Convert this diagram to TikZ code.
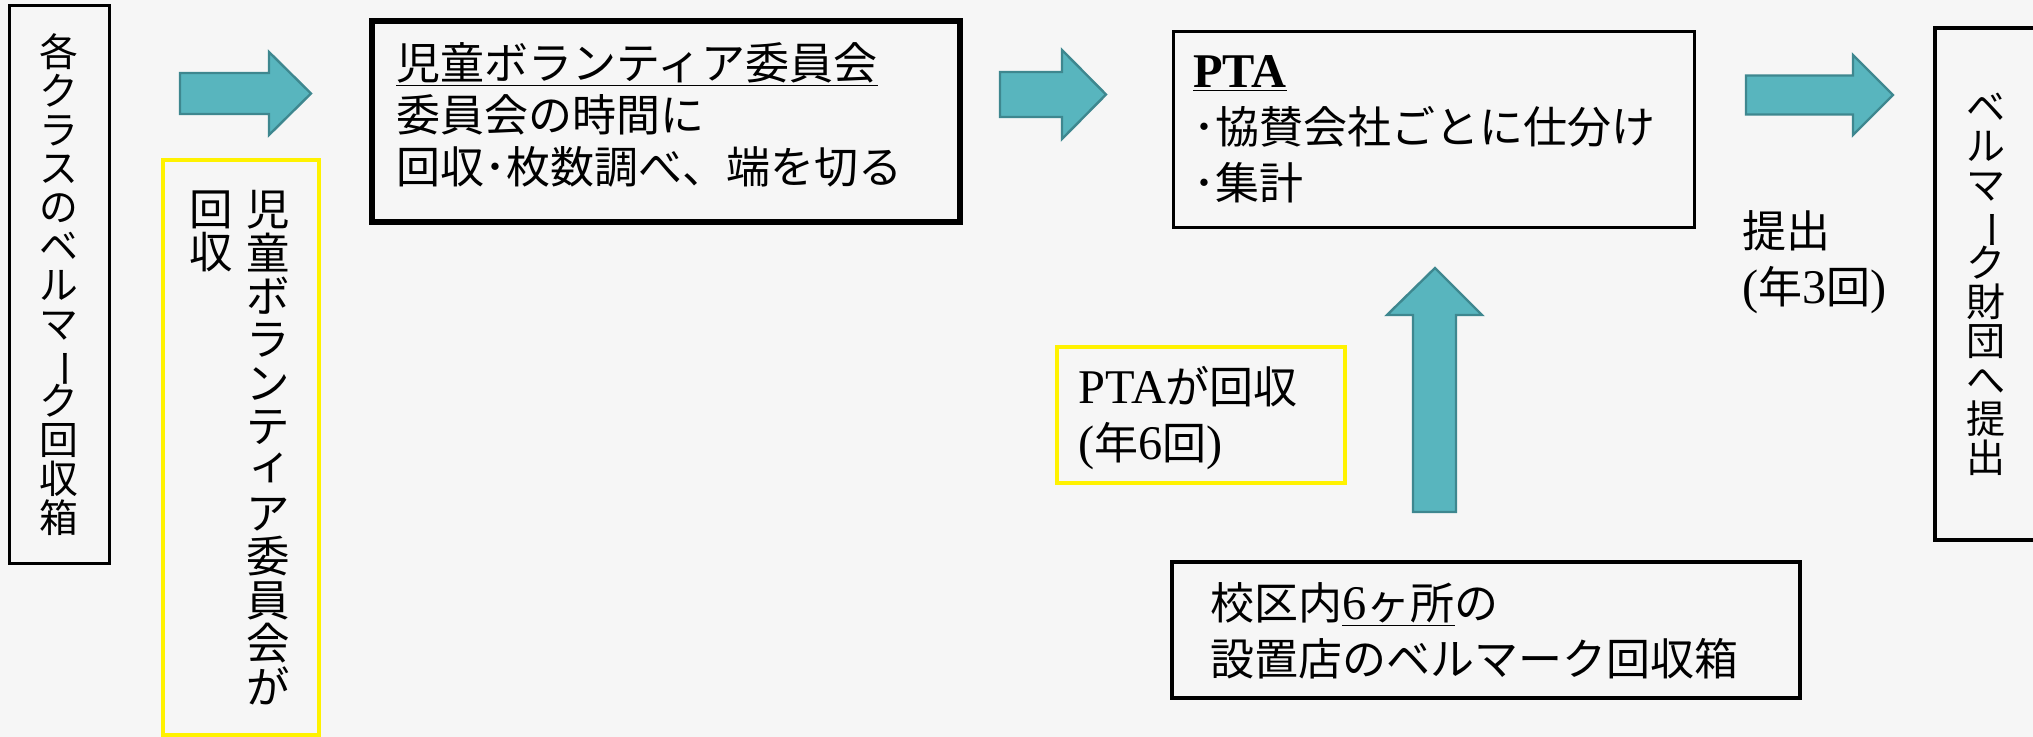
\documentclass[tikz,border=0pt]{standalone}
\usepackage{fontspec}
\usepackage{graphicx}
\setmainfont{Noto Sans CJK JP}
\newfontfamily\lat[Scale=1.1]{Liberation Serif}
\usetikzlibrary{fit}
\definecolor{paper}{RGB}{246,246,246}
\definecolor{arrowfill}{RGB}{88,181,190}
\definecolor{arrowline}{RGB}{62,135,143}
\newcommand\tate[2]{\vtop{\fontsize{#1}{#1}\selectfont\baselineskip=#1\lineskiplimit=-\maxdimen\lineskip=0pt\tatego#2\relax}}
\def\tatego#1{\ifx\relax#1\else\hbox to 1em{\hss\tatechar#1\hss}\expandafter\tatego\fi}
\def\tatechar#1{\ifx ー#1\rotatebox[origin=c]{-90}{ー}\else\ifx ィ#1\raise.15em\hbox{\kern.12em ィ}\else#1\fi\fi}
\begin{document}
\begin{tikzpicture}[x=.5pt, y=-.5pt, font=\fontsize{22}{26}\selectfont,
	frame/.style={draw, line width=1.5pt, inner sep=0pt},
	yframe/.style={draw=yellow, line width=2pt, inner sep=0pt},
	txt/.style={inner sep=0pt, align=left, anchor=north west},
	blockarrow/.style={fill=arrowfill, draw=arrowline, line width=1.2pt}]
	\fill[paper] (0,0) rectangle (2033,737);
	\useasboundingbox (0,0) rectangle (2033,737);
	\node[frame, fit={(9,6) (109,563)}] (clsbox) {};
	\node[inner sep=0pt] (clstxt) at (clsbox.center) {\tate{19.4pt}{各クラスのベルマーク回収箱}};
	\node[yframe, fit={(163,160) (319,735)}] (cmtbox) {};
	\node[inner sep=0pt, anchor=north] (cmttxt) at (268,190) {\tate{21.7pt}{児童ボランティア委員会が}};
	\node[inner sep=0pt, anchor=north east] (cmtend) at ([xshift=-6.3pt]cmttxt.north west) {\tate{21.7pt}{回収}};
	\node[frame, line width=3pt, fit={(372,21) (960,222)}] (volbox) {};
	\node[txt] (voltxt) at (396,42) {\underline{児童ボランティア委員会}\\委員会の時間に\\回収･枚数調べ、端を切る};
	\node[frame, fit={(1173,32) (1694,228)}] (ptabox) {};
	\node[txt, font=\fontsize{22}{28}\selectfont] (ptatxt) at (1193,55) {\underline{\lat\bfseries PTA}\\･協賛会社ごとに仕分け\\･集計};
	\node[yframe, fit={(1057,347) (1345,483)}] (ptaybox) {};
	\node[txt, font=\fontsize{22}{28}\selectfont] (ptaytxt) at (1078,366) {{\lat PTA}が回収\\{\lat(}年{\lat 6}回{\lat)}};
	\node[frame, line width=1.75pt, fit={(1172,562) (1800,698)}] (shopbox) {};
	\node[txt, font=\fontsize{22}{28}\selectfont] (shoptxt) at (1210,582) {校区内\underline{{\lat 6}ヶ所}の\\設置店のベルマーク回収箱};
	\node[txt, font=\fontsize{22}{28}\selectfont] (subtxt) at (1742,210) {提出\\{\lat(}年{\lat 3}回{\lat)}};
	\node[frame, line width=1.75pt, fit={(1935,28) (2037,540)}] (fndbox) {};
	\node[inner sep=0pt] (fndtxt) at (fndbox.center) {\tate{19.5pt}{ベルマーク財団へ提出}};
	\foreach \xa/\xh/\xb/\yc/\s/\h in {180/269/311/93.5/20.5/41.5, 1000/1062/1106/94.5/22.5/44.5, 1746/1853/1893/95/19.5/40}
		\draw[blockarrow] (\xa,\yc-\s) -- (\xh,\yc-\s) -- (\xh,\yc-\h) -- (\xb,\yc) -- (\xh,\yc+\h) -- (\xh,\yc+\s) -- (\xa,\yc+\s) -- cycle;
	\draw[blockarrow] (1413,512) -- (1413,315) -- (1387,315) -- (1435,268) -- (1482,315) -- (1456,315) -- (1456,512) -- cycle;
\end{tikzpicture}
\end{document}
